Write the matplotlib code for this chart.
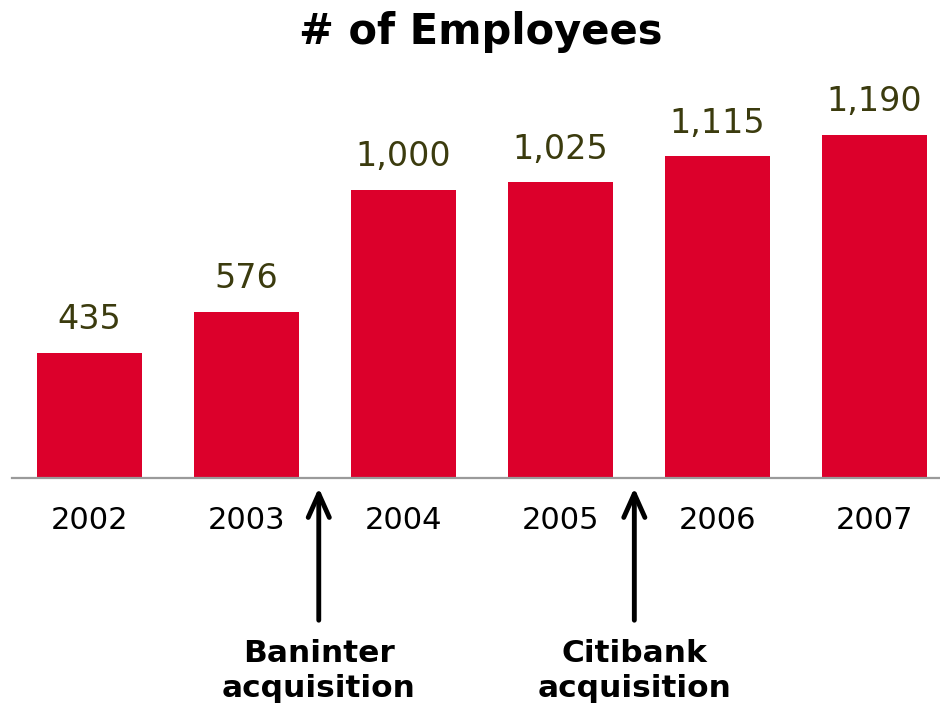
import matplotlib
matplotlib.use("Agg")
import matplotlib.pyplot as plt

years = ["2002", "2003", "2004", "2005", "2006", "2007"]
employees = [435, 576, 1000, 1025, 1115, 1190]
value_labels = ["435", "576", "1,000", "1,025", "1,115", "1,190"]
events = ["Baninter\nacquisition", "Citibank\nacquisition"]
event_positions = [1.46, 3.47]

BAR_RED = "#DC002B"
LABEL_OLIVE = "#3B3B0E"

plt.rcParams["font.family"] = ["DejaVu Sans"]

fig = plt.figure(figsize=(9.4, 7.04), dpi=100)
ax = fig.add_axes([12 / 940, (704 - 478) / 704, 928 / 940, 418 / 704])

x = range(len(years))
ax.bar(x, employees, width=0.67, color=BAR_RED, zorder=2)
ax.set_xlim(-0.494, 5.417)
ax.set_ylim(0, 1449)

for xi, v, lab in zip(x, employees, value_labels):
    ax.text(xi, v + 58, lab, ha="center", va="bottom", fontsize=24,
            color=LABEL_OLIVE)

for side in ["top", "right", "left"]:
    ax.spines[side].set_visible(False)
ax.spines["bottom"].set_color("#9a9a9a")
ax.spines["bottom"].set_linewidth(1.6)
ax.set_yticks([])
ax.set_xticks(list(x))
ax.set_xticklabels(years, fontsize=22, color="black")
ax.tick_params(axis="x", length=0, pad=20)

fig.text(0.511, 0.955, "# of Employees", ha="center", va="center",
         fontsize=30, fontweight="bold", color="black")

for pos, label in zip(event_positions, events):
    ax.annotate("", xy=(pos, 0.307), xycoords=("data", "figure fraction"),
                xytext=(pos, 0.119), textcoords=("data", "figure fraction"),
                arrowprops=dict(arrowstyle="->,head_length=0.85,head_width=0.38",
                                mutation_scale=20, lw=3.5, color="black",
                                shrinkA=0, shrinkB=0),
                annotation_clip=False)
    ax.annotate(label, xy=(pos, 0.047), xycoords=("data", "figure fraction"),
                ha="center", va="center", fontsize=22.5, fontweight="bold",
                linespacing=1.25, annotation_clip=False)

fig.savefig("out.png", dpi=100)
